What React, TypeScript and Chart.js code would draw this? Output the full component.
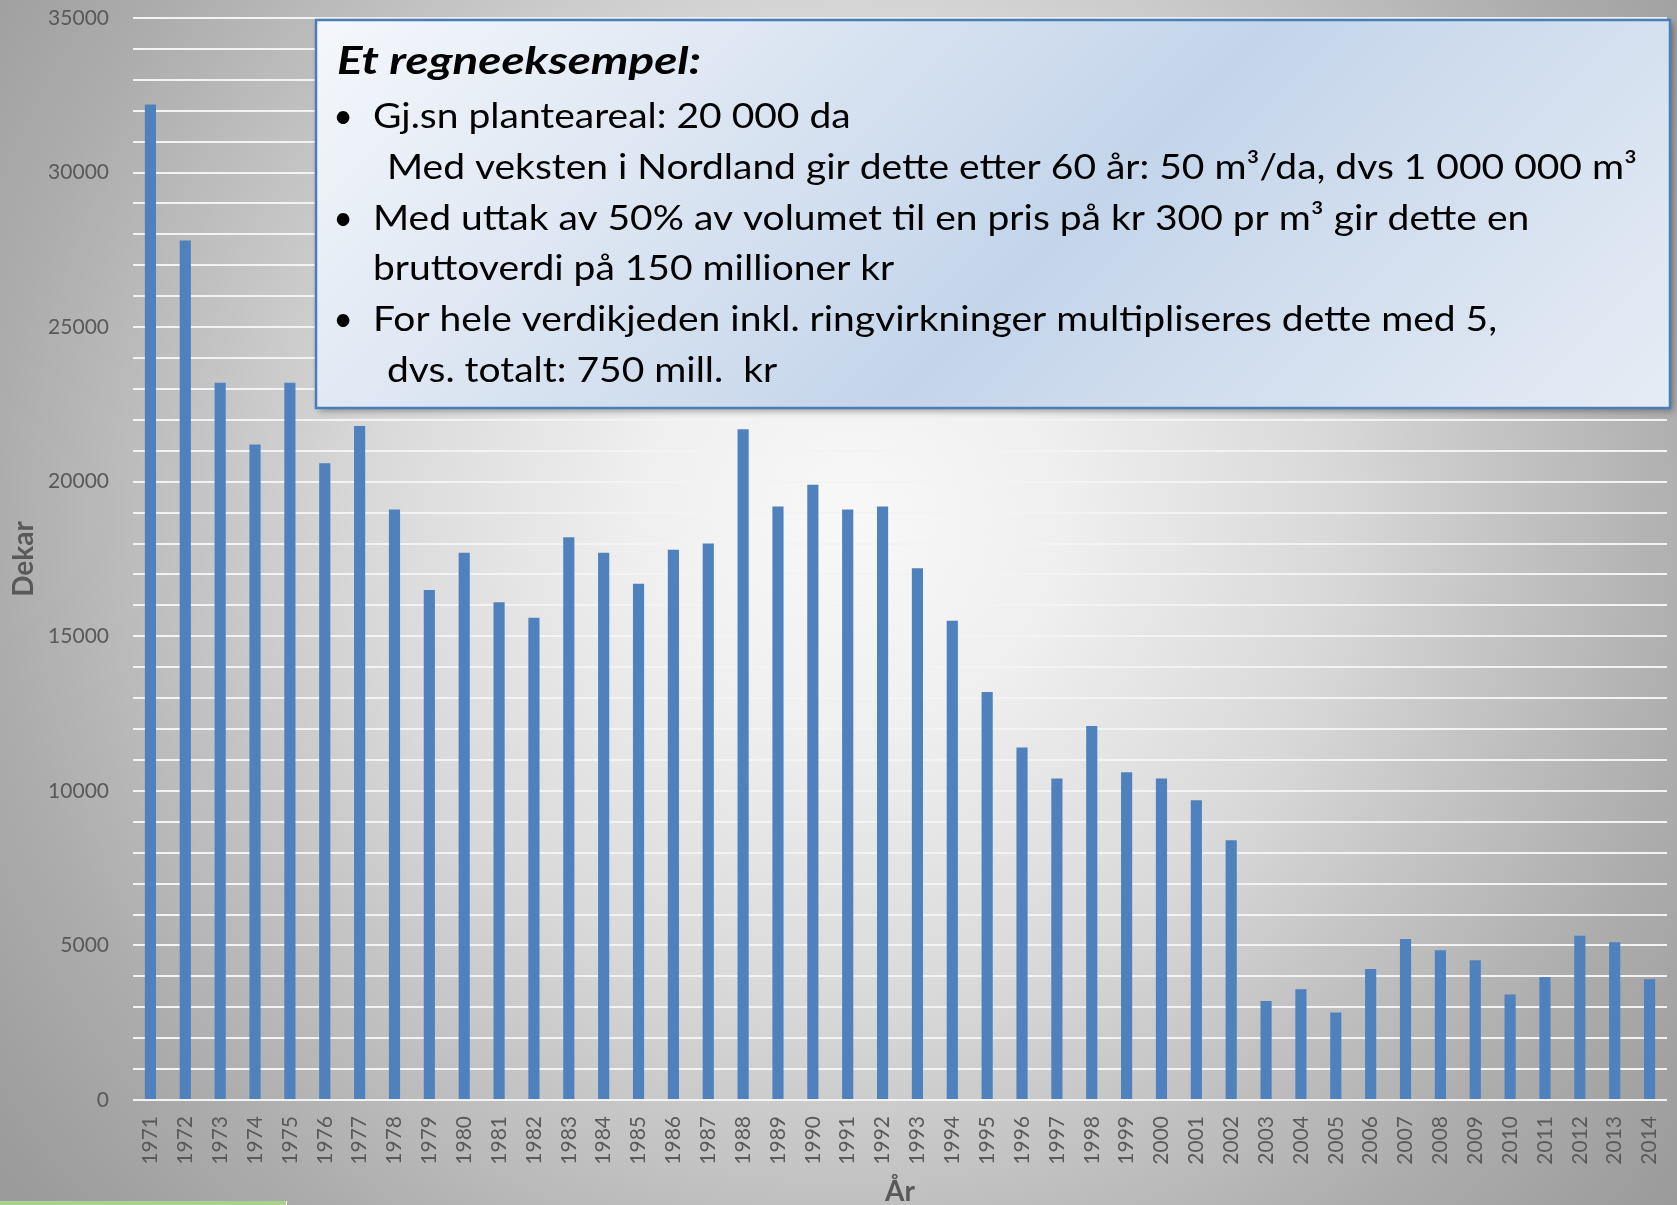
import React, { useEffect, useRef } from "react";
import { Chart, registerables } from "chart.js";

Chart.register(...registerables);

// ---- Data ----
const YEARS: string[] = [
  "1971", "1972", "1973", "1974", "1975", "1976", "1977", "1978", "1979", "1980",
  "1981", "1982", "1983", "1984", "1985", "1986", "1987", "1988", "1989", "1990",
  "1991", "1992", "1993", "1994", "1995", "1996", "1997", "1998", "1999", "2000",
  "2001", "2002", "2003", "2004", "2005", "2006", "2007", "2008", "2009", "2010",
  "2011", "2012", "2013", "2014",
];

const PLANTED_AREA: number[] = [
  32200, 27800, 23200, 21200, 23200, 20600, 21800, 19100, 16500, 17700,
  16100, 15600, 18200, 17700, 16700, 17800, 18000, 21700, 19200, 19900,
  19100, 19200, 17200, 15500, 13200, 11400, 10400, 12100, 10600, 10400,
  9700, 8400, 3200, 3580, 2830, 4240, 5210, 4840, 4520, 3410,
  3980, 5310, 5100, 3910,
];

const Y_MIN = 0;
const Y_MAX = 35000;
const Y_GRID_STEP = 1000;
const Y_LABEL_STEP = 5000;

const X_TITLE = "År";
const Y_TITLE = "Dekar";

const NOTE_TITLE = "Et regneeksempel:";
const NOTE_LINES: string[] = [
  "Gj.sn planteareal: 20 000 da",
  "Med veksten i Nordland gir dette etter 60 år: 50 m³/da, dvs 1 000 000 m³",
  "Med uttak av 50% av volumet til en pris på kr 300 pr m³ gir dette en",
  "bruttoverdi på 150 millioner kr",
  "For hele verdikjeden inkl. ringvirkninger multipliseres dette med 5,",
  "dvs. totalt: 750 mill.  kr",
];
const NOTE_BULLETS: boolean[] = [true, false, true, false, true, false];
const NOTE_INDENT: boolean[] = [false, true, false, false, false, true];

const FONT = "Lato, 'Open Sans', sans-serif";
const LABEL_COLOR = "#595959";

const noteBoxPlugin = {
  id: "noteBox",
  afterDraw(chart: any) {
    const ctx: CanvasRenderingContext2D = chart.ctx;
    const x0 = 316, y0 = 20, x1 = 1670, y1 = 408;
    const w = x1 - x0, h = y1 - y0;
    ctx.save();
    ctx.shadowColor = "rgba(0,0,0,0.35)";
    ctx.shadowBlur = 7;
    ctx.shadowOffsetX = 3;
    ctx.shadowOffsetY = 3;
    const g = ctx.createLinearGradient(x0, y0, x0 + 871, y0 + 871);
    g.addColorStop(0, "#f5f7fb");
    g.addColorStop(0.55, "#c4d5ea");
    g.addColorStop(1, "#e6ecf5");
    ctx.fillStyle = g;
    ctx.fillRect(x0, y0, w, h);
    ctx.shadowColor = "transparent";
    ctx.shadowBlur = 0;
    ctx.shadowOffsetX = 0;
    ctx.shadowOffsetY = 0;
    ctx.strokeStyle = "#4a7ebb";
    ctx.lineWidth = 2.5;
    ctx.strokeRect(x0, y0, w, h);

    ctx.fillStyle = "#000000";
    ctx.textBaseline = "alphabetic";
    ctx.textAlign = "left";

    ctx.font = `italic bold 38px ${FONT}`;
    const tw = ctx.measureText(NOTE_TITLE).width;
    const tsx = 364 / tw;
    ctx.save();
    ctx.translate(337, 74);
    ctx.scale(tsx, 1);
    ctx.fillText(NOTE_TITLE, 0, 0);
    ctx.restore();

    ctx.font = `34px ${FONT}`;
    const lw = ctx.measureText(NOTE_LINES[1]).width;
    const sx = 1250 / lw;
    const baseY = 128;
    const step = 50.8;
    NOTE_LINES.forEach((line, i) => {
      const y = baseY + i * step;
      if (NOTE_BULLETS[i]) {
        ctx.save();
        ctx.textAlign = "center";
        ctx.translate(343, y);
        ctx.fillText("•", 0, 0);
        ctx.restore();
      }
      const x = NOTE_INDENT[i] ? 387 : 373;
      ctx.save();
      ctx.translate(x, y);
      ctx.scale(sx, 1);
      ctx.fillText(line, 0, 0);
      ctx.restore();
    });
    ctx.restore();
  },
};

export default function App() {
  const canvasRef = useRef<HTMLCanvasElement | null>(null);

  useEffect(() => {
    document.body.style.margin = "0";
    const canvas = canvasRef.current;
    if (!canvas) return;
    const chart = new Chart(canvas, {
      type: "bar",
      data: {
        labels: YEARS,
        datasets: [
          {
            label: Y_TITLE,
            data: PLANTED_AREA,
            backgroundColor: "#4f81bd",
            borderWidth: 0,
            categoryPercentage: 1,
            barPercentage: 0.32,
          },
        ],
      },
      options: {
        animation: false,
        responsive: false,
        maintainAspectRatio: false,
        devicePixelRatio: 1,
        layout: { padding: { top: 18, right: 10, bottom: 0, left: 0 } },
        plugins: {
          legend: { display: false },
          tooltip: { enabled: false },
        },
        scales: {
          x: {
            grid: { display: false, drawTicks: false },
            border: { display: false },
            ticks: {
              autoSkip: false,
              minRotation: 90,
              maxRotation: 90,
              color: LABEL_COLOR,
              font: { family: FONT, size: 21 },
              padding: 16,
            },
            title: {
              display: true,
              text: X_TITLE,
              color: LABEL_COLOR,
              font: { family: FONT, size: 28, weight: "bold" },
              padding: { top: 0, bottom: -4 },
            },
            afterFit: (scale: any) => {
              scale.height = 105;
              scale.paddingLeft = 0;
              scale.paddingRight = 0;
            },
          },
          y: {
            min: Y_MIN,
            max: Y_MAX,
            grid: { color: "#f3f3f3", lineWidth: 2, drawTicks: false },
            border: { display: false },
            ticks: {
              stepSize: Y_GRID_STEP,
              autoSkip: false,
              color: LABEL_COLOR,
              font: { family: FONT, size: 21 },
              padding: 24,
              callback: (v: any) => (Number(v) % Y_LABEL_STEP === 0 ? String(v) : ""),
            },
            title: {
              display: true,
              text: Y_TITLE,
              color: LABEL_COLOR,
              font: { family: FONT, size: 28, weight: "bold" },
              padding: { top: 7, bottom: 0 },
            },
            afterFit: (scale: any) => {
              scale.width = 133;
              scale.paddingTop = 0;
              scale.paddingBottom = 0;
            },
          },
        },
      },
      plugins: [noteBoxPlugin],
    });
    return () => chart.destroy();
  }, []);

  return (
    <div
      style={{
        position: "relative",
        width: 1677,
        height: 1205,
        overflow: "hidden",
        background:
          "radial-gradient(circle at 850px 520px, #f8f8f8 0px, #f0f0f0 200px, #d9d9d9 480px, #c4c4c4 650px, #adadad 850px, #9c9c9c 1050px, #959595 1250px)",
      }}
    >
      <canvas
        ref={canvasRef}
        width={1677}
        height={1205}
        style={{ position: "absolute", left: 0, top: 0, width: 1677, height: 1205 }}
      />
      <div
        style={{
          position: "absolute",
          left: 0,
          top: 1201,
          width: 286,
          height: 4,
          background: "#a9d18e",
          borderRight: "1px solid #ffffff",
        }}
      />
    </div>
  );
}
